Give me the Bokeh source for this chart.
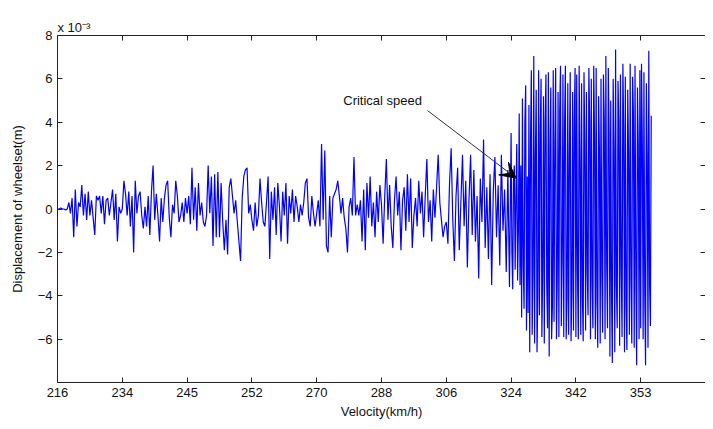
import numpy as np
from bokeh.plotting import figure
from bokeh.models import Range1d, LinearAxis, FixedTicker, Arrow, VeeHead, Label, Title
from bokeh.embed import file_html
from bokeh.resources import INLINE

# x tick labels (velocity, km/h) at evenly spaced sample positions
velocity_labels = ["216", "234", "245", "252", "270", "288", "306", "324", "342", "353"]
y_ticks = [-6, -4, -2, 0, 2, 4, 6, 8]

# wheelset lateral displacement (unit 1e-3 m), one list per velocity tick interval
seg_216_234 = [0, 0, 0.05, 0, 0, -0.05, 0, 0.3, -0.2, 0.5, -1.3, 0.9, -0.8, 0.3, 0.1, 1.1, -0.3, 0.7, -0.5, 0.8,
               -0.3, 0.4, -0.4, -1.2, 0.6, 0.4, 0.6, -0.2, 0.6, -0.7, 0.4, 0.5, -0.3, 0.3, 0.9, -0.5, 0.7, -1.5, 0.1, -0.2]
seg_234_245 = [0, 1.3, 0.7, -0.3, 0.8, -0.8, 0.6, -2.0, 1.3, -0.2, 0.6, 0.8, -0.3, -0.9, 0.1, -0.8, 0.6, -1.2, 0.8, 2.0,
               -0.5, 0.7, -0.3, -1.5, 0.5, -0.6, 0.5, 1.1, 1.3, -0.4, -1.3, 0.2, -0.2, 1.3, 0.6, -0.6, -0.3, 0.3, -0.6, 0.5]
seg_245_252 = [-0.2, 0.6, -0.7, 1.9, -0.5, 1.0, -1.0, 1.2, -0.3, 0.3, -0.6, -0.8, -0.3, 2.0, -0.2, 1.5, -1.7, 1.6, -1.3, 1.7,
               -1.3, 1.2, -0.6, -1.9, -0.5, -2.1, 1.0, 1.4, 0.6, -0.2, 0.4, -0.6, -1.5, -2.4, 0.5, 1.5, 1.8, 1.9, -0.2, 0.2]
seg_252_270 = [-0.5, -1.0, 0.3, -0.8, -0.3, 1.4, 0.3, -0.6, -0.8, 0.3, 1.5, -2.3, 0.8, -0.5, 1.0, -1.2, 1.2, 0.1, -1.5, 0.8,
               -0.3, 1.2, -1.6, 0.6, -0.2, 0.9, -0.6, 0.6, 0.1, -0.6, 0.2, -0.3, 0.3, 1.2, 1.4, -0.4, -0.8, 0.6, -0.2, -0.8]
seg_270_288 = [-0.2, 0.4, -0.8, 3.0, -0.5, 2.7, -1.7, -2.0, 0.6, -1.3, 0.5, 0.7, 0.9, 1.3, 0.6, -0.2, 0.5, -0.4, -0.9, -2.0,
               0.1, 0.5, -0.3, 2.4, -0.3, 0.2, -0.3, 0.4, -1.5, 0.9, -1.9, 1.2, -0.4, 1.5, -0.8, 0.3, -1.3, 0.8, -0.6, 1.1]
seg_288_306 = [0.2, -1.6, 0.6, 2.3, -0.5, 1.1, -0.8, -1.8, 0.4, 1.5, -0.3, 0.8, -1.9, 0.4, 1.0, -1.0, 1.6, -0.6, 1.4, -1.8,
               -0.3, 0.5, -0.8, 1.3, -0.2, 0.8, -1.3, 0.6, 2.3, -0.6, 0.4, -1.5, 0.9, -0.4, 1.0, 2.5, 0.3, -0.5, -1.3, -0.8]
seg_306_324 = [-0.6, -1.6, 1.2, 2.8, -0.5, -2.4, 0.6, 1.9, -1.9, 0.3, 2.5, -0.8, 1.3, -2.7, 0.4, 2.5, -1.2, 1.8, -1.5, 0.6,
               -3.2, 1.4, -0.6, 3.2, -1.8, 1.0, -2.3, 1.6, -3.5, 0.8, 2.4, -1.3, 1.1, -2.6, 2.5, -1.0, 0.9, -2.9, 1.8, -3.6]
seg_324_342 = [3.5, -2.0, -3.7, 1.5, 2.0, -2.8, 0.5, 3.0, -3.3, -1.0,
               4.4, -3.5, 2.0, -5.0, 5.1, -2.5, -4.6, 4.0, 5.7, -5.6, 1.5, -4.8, 4.8, -6.6, 3.2, 6.4, -5.8, -3.0, 7.05, -6.2,
               2.5, 5.5, -6.6, -4.0, 6.4, -4.9, 3.5, 6.0, -5.9, -2.8, 5.2, -6.2, 4.0, 6.2, -3.5, -5.5, 6.3, -6.8, 2.8, 5.6,
               -6.0, -4.5, 6.4, -5.2, 3.0, 6.5, -6.0, -3.2, 5.4, -5.9, 4.5, 6.6, -5.4, -2.5, 6.2, -5.9, 3.8, 6.6, -6.0, -4.2,
               5.8, -5.8, 2.5, 6.3, -6.1, -3.8, 5.4, -5.6, 4.1, 6.5]
seg_342_353 = [-5.9, 6.2, -3.0, -6.0, 6.6, 2.5, -5.8, 5.8, -4.0, -6.1, 6.3, 3.0, -5.6, 5.4, -2.8, -4.9, 6.5, 4.0, -6.0, 6.0,
               -3.5, -5.5, 6.6, 3.2, -6.0, 6.5, -4.2, -6.4, 5.2, 2.8, -6.2, 6.0, -3.0, -5.7, 6.2, 4.2, -6.0, 7.05, -2.5, -5.5,
               6.5, 3.5, -6.8, 5.0, -4.0, -7.1, 6.0, 2.8, -6.6, 7.35, -3.5, -5.5, 5.9, 4.0, -6.3, 6.2, -2.8, -5.9, 6.7, 3.6,
               -6.6, 6.1, -4.5, -6.5, 5.5, 2.5, -5.8, 6.7, -3.2, -6.2, 6.1, 4.4, -6.4, 6.6, -3.0, -7.2, 5.6, 3.0, -6.0, 6.4]
seg_353_end = [-5.5, 6.7, 3.0, -6.0, 6.3, -4.0, -7.2, 5.8, 2.5, -6.4, 7.3, -3.5, -5.4, 4.3]

segments = [seg_216_234, seg_234_245, seg_245_252, seg_252_270, seg_270_288,
            seg_288_306, seg_306_324, seg_324_342, seg_342_353, seg_353_end]
# sampling density per interval (finer after the critical speed)
samples_per_interval = [40, 40, 40, 40, 40, 40, 40, 80, 80, 80]

xs, ys = [], []
for i, seg in enumerate(segments):
    n = samples_per_interval[i]
    for k, v in enumerate(seg):
        xs.append(i + k / n)
        ys.append(v)

FONT = "Liberation Sans"

p = figure(width=705, height=421, x_range=Range1d(0, 10), y_range=Range1d(-8, 8),
           output_backend="svg", toolbar_location=None,
           min_border_left=57, min_border_right=0, min_border_top=35, min_border_bottom=37)
p.grid.visible = False
p.outline_line_color = None
p.background_fill_color = "white"
p.border_fill_color = "white"

p.title = Title(text="x 10\u207b\u00b3", align="left", text_font=FONT, text_font_size="13px",
                text_font_style="normal", text_color="#111111", standoff=2, offset=0)

p.line(xs, ys, line_color="#0000ff", line_width=1.2)

xt = FixedTicker(ticks=list(range(len(velocity_labels))))
yt = FixedTicker(ticks=y_ticks)

def style(ax):
    ax.axis_line_color = "#222222"
    ax.axis_line_width = 1
    ax.major_tick_in = 5
    ax.major_tick_out = 0
    ax.minor_tick_line_color = None
    ax.major_tick_line_color = "#222222"
    ax.major_label_text_font = FONT
    ax.major_label_text_font_size = "13px"
    ax.major_label_text_color = "#111111"
    ax.axis_label_text_font = FONT
    ax.axis_label_text_font_size = "13px"
    ax.axis_label_text_font_style = "normal"
    ax.axis_label_text_color = "#111111"

xa = p.xaxis[0]
xa.ticker = xt
xa.major_label_overrides = {i: lab for i, lab in enumerate(velocity_labels)}
xa.axis_label = "Velocity(km/h)"
xa.major_label_standoff = 5
xa.axis_label_standoff = 4
style(xa)

ya = p.yaxis[0]
ya.ticker = yt
ya.major_label_overrides = {t: (str(t) if t >= 0 else "\u2212" + str(-t)) for t in y_ticks}
ya.axis_label = "Displacement of wheelset(m)"
ya.major_label_standoff = 5
ya.axis_label_standoff = 10
style(ya)

top = LinearAxis(ticker=xt)
style(top)
top.major_label_overrides = {i: "" for i in range(len(velocity_labels))}
top.major_label_standoff = 0
p.add_layout(top, "above")

right = LinearAxis(ticker=yt)
style(right)
right.major_label_overrides = {t: "" for t in y_ticks}
right.major_label_standoff = 0
p.add_layout(right, "right")

# annotation
p.add_layout(Arrow(end=VeeHead(size=16, fill_color="black", line_color="black"),
                   x_start=5.71, y_start=4.54, x_end=7.08, y_end=1.42,
                   line_color="#333333", line_width=1))
p.add_layout(Label(x=4.41, y=5.0, text="Critical speed", text_font=FONT,
                   text_font_size="13px", text_baseline="middle", text_color="#111111"))

open("out.html", "w").write(file_html(p, INLINE))
